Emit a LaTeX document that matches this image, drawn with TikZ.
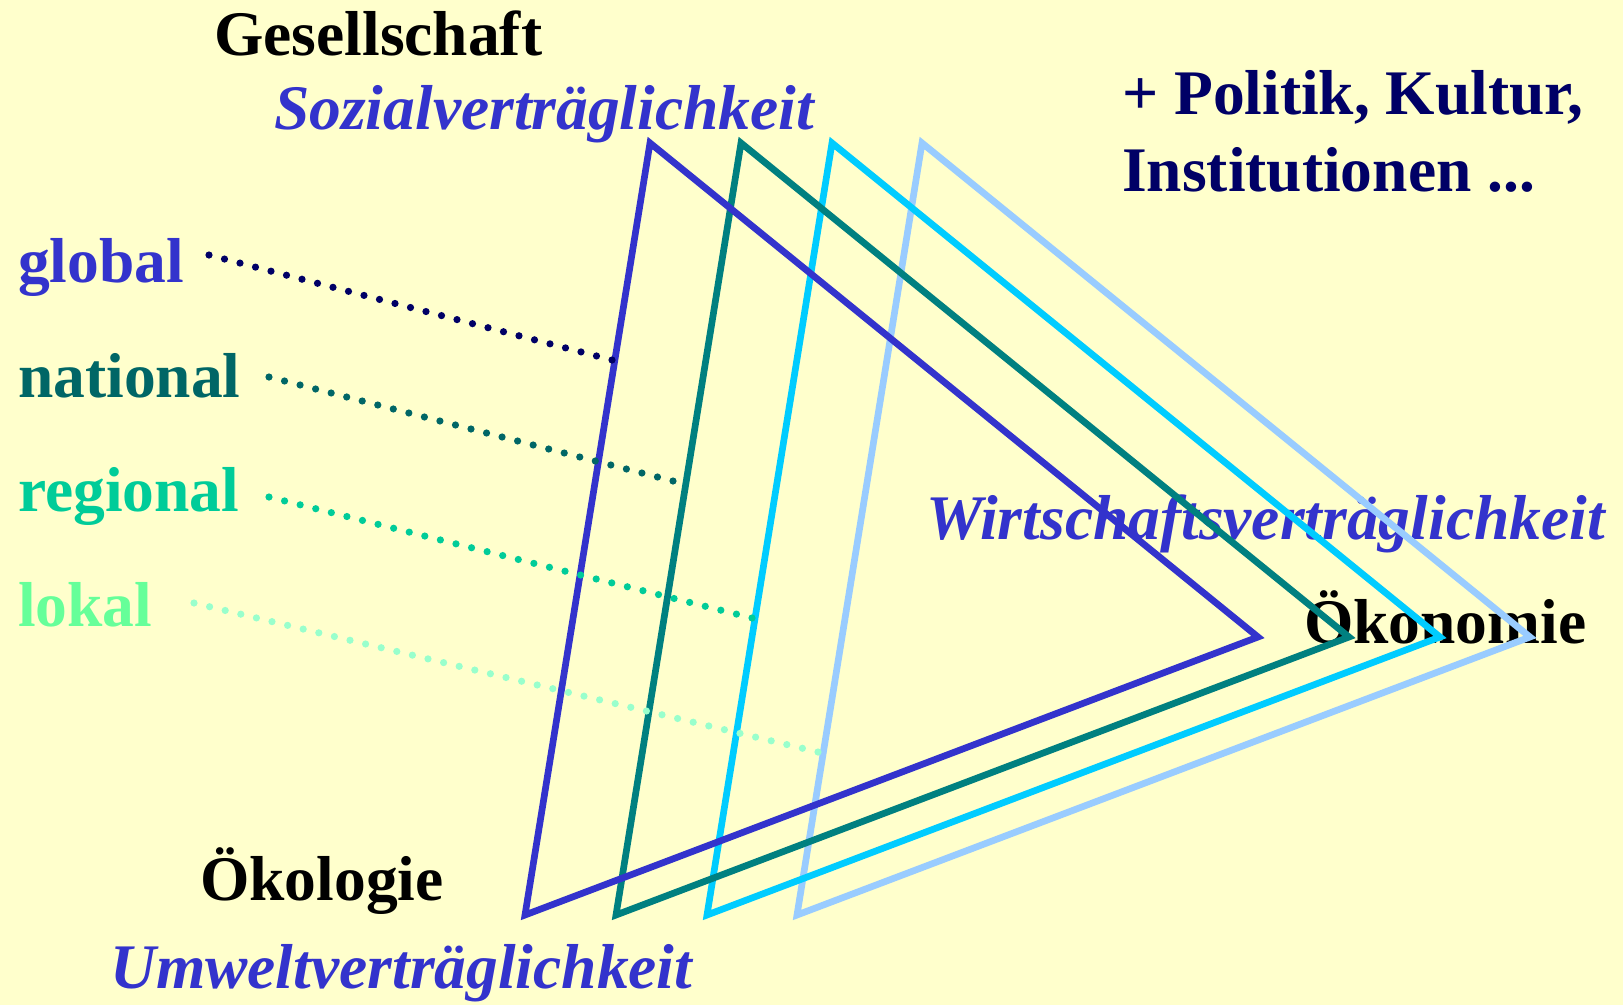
\documentclass[tikz,border=0pt]{standalone}
\usepackage{fontspec}
\usetikzlibrary{calc}
\setmainfont{Liberation Serif}
\definecolor{bg}{HTML}{FFFFCC}
\definecolor{cblue}{HTML}{3333CC}
\definecolor{cteal}{HTML}{008080}
\definecolor{ccyan}{HTML}{00CCFF}
\definecolor{clight}{HTML}{99CCFF}
\definecolor{cnavy}{HTML}{000066}
\definecolor{cnat}{HTML}{006666}
\definecolor{creg}{HTML}{00CC99}
\definecolor{clok}{HTML}{66FF99}
\definecolor{clokdot}{HTML}{99FFCC}
\begin{document}
\begin{tikzpicture}[x=1pt,y=-1pt,
  lbl/.style={inner sep=0pt,anchor=base west,font=\fontsize{63.5}{70}\selectfont\bfseries},
  ilbl/.style={lbl,font=\fontsize{63.5}{70}\selectfont\bfseries\itshape,text=cblue},
  tri/.style={line width=6.7pt,line join=miter}]
\fill[bg] (0,0) rectangle (1623,1005);
\useasboundingbox (0,0) rectangle (1623,1005);
% texts
\node[lbl] (ges) at (214,55) {Gesellschaft};
\node[ilbl] (soz) at (274,129) {Sozialverträglichkeit};
\node[lbl,text=cnavy] (pol) at (1122,114) {+ Politik, Kultur,};
\node[lbl,text=cnavy] (inst) at (1122,191) {Institutionen ...};
\node[lbl,text=cblue] (glob) at (18,282) {global};
\node[lbl,text=cnat] (nat) at (18,397) {national};
\node[lbl,text=creg] (reg) at (18,511) {regional};
\node[lbl,text=clok] (lok) at (18,626) {lokal};
\node[ilbl] (wir) at (926,539) {Wirtschaftsverträglichkeit};
\node[lbl] (oek) at (1304,643) {Ökonomie};
\node[lbl] (oeko) at (200,900) {Ökologie};
\node[ilbl] (umw) at (110,988) {Umweltverträglichkeit};
% triangle vertices
\foreach \n/\d in {1/0,2/91,3/182,4/272}{
  \coordinate (t\n) at (650+\d,143);
  \coordinate (b\n) at (525+\d,915);
  \coordinate (r\n) at (1258+\d,637);
}
\draw[tri,clight] (t4) -- (r4) -- (b4) -- cycle;
\draw[tri,ccyan] (t3) -- (r3) -- (b3) -- cycle;
\draw[tri,cteal] (t2) -- (r2) -- (b2) -- cycle;
\draw[tri,cblue] (t1) -- (r1) -- (b1) -- cycle;
% dotted links
\coordinate (gs) at (209,255); \coordinate (ge) at (612,360);
\coordinate (ns) at (269,377); \coordinate (ne) at (673,481);
\coordinate (rs) at (269,497); \coordinate (re) at (752,618);
\coordinate (ls) at (194,603); \coordinate (le) at (818,752);
\foreach \s/\e/\c/\N in {gs/ge/cnavy/26,ns/ne/cnat/26,rs/re/creg/31,ls/le/clokdot/40}{
  \foreach \i in {0,...,\N}{
    \fill[\c] ($(\s)!\i/\N!(\e)$) circle (3.6);
  }
}
\end{tikzpicture}
\end{document}
